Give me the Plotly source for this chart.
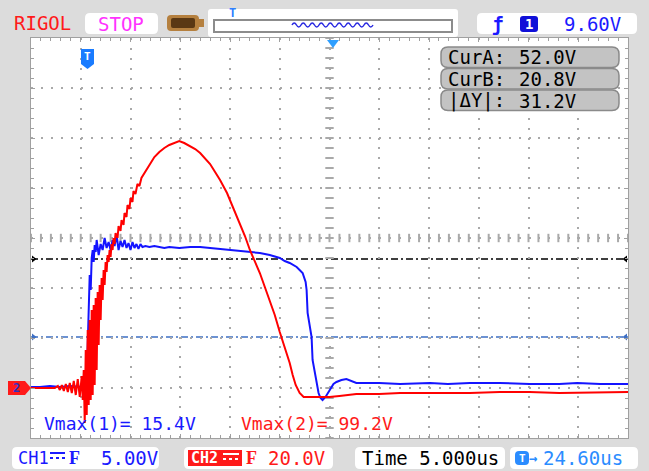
import plotly.graph_objects as go

# ---------------- data ----------------
TIME_DIV = 5.0      # us / div
CH1_DIV = 5.0       # V / div
CH2_DIV = 20.0      # V / div
T_OFFSET = 24.6     # us (screen centre relative to trigger)
GND_DIV = 0.98      # ground level above bottom edge, in divisions
TRIG_LEVEL = 9.60
CUR_A = 52.0
CUR_B = 20.8
VMAX1 = 15.4
VMAX2 = 99.2

ch1_t = [-5.4, -4.5, -3.5, -2.5, -1.5, -0.7, -0.1, 0.0, 0.1, 0.2, 0.3, 0.4, 0.5, 0.6, 0.7, 0.8,
         0.9, 1.0, 1.1, 1.2, 1.4, 1.6, 1.8, 2.0, 2.2, 2.4, 2.6, 2.8, 3.0, 3.2, 3.4, 3.6, 3.8,
         4.0, 4.2, 4.4, 4.6, 4.8, 5.0, 5.2, 5.4, 5.6, 5.8, 6.1, 6.5, 7.0, 7.5, 8.0, 8.5, 9.5,
         10.6, 11.6, 12.6, 13.6, 14.6, 15.6, 16.6, 17.6, 18.6, 19.6, 20.1, 20.6, 21.3, 21.9,
         22.2, 22.3, 22.4, 22.6, 22.8, 22.9, 23.1, 23.3, 23.5, 23.7, 23.9, 24.2, 24.6, 25.0,
         25.3, 25.8, 26.3, 26.8, 27.3, 29.6, 31.7, 34.7, 36.5, 38.7, 41.7, 44.7, 47.7, 49.5,
         51.8, 54.6]
ch1_v = [0.2, 0.2, 0.3, 0.2, 0.3, 0.2, 0.2, 0.1, -0.6, 0.9, 4.9, 8.9, 11.4, 9.9, 13.1, 13.9,
         12.7, 14.4, 13.7, 14.9, 13.4, 14.5, 13.9, 15.1, 14.1, 14.7, 13.9, 14.9, 14.3, 15.4,
         13.9, 14.8, 14.2, 14.9, 14.1, 14.6, 13.9, 14.7, 14.1, 14.5, 14.0, 14.5, 14.2, 14.3,
         14.2, 14.3, 14.2, 14.1, 14.2, 14.1, 14.2, 14.2, 14.1, 14.0, 13.9, 13.8, 13.7, 13.6,
         13.4, 13.1, 12.8, 12.6, 12.2, 11.6, 10.7, 9.9, 7.6, 6.4, 5.2, 2.9, 1.7, 0.9, -0.4,
         -0.9, -1.1, -0.8, -0.1, 0.5, 0.7, 0.9, 1.0, 0.8, 0.6, 0.6, 0.5, 0.6, 0.5, 0.6, 0.6,
         0.5, 0.5, 0.6, 0.5, 0.5]

ch2_t = [-5.4, -4.5, -3.5, -3.0, -2.7, -2.5, -2.3, -2.1, -1.9, -1.7, -1.5, -1.3, -1.1, -0.9,
         -0.7, -0.5, -0.3, -0.2, -0.1, 0.0, 0.1, 0.2, 0.3, 0.4, 0.5, 0.6, 0.7, 0.8, 0.9, 1.0,
         1.1, 1.2, 1.3, 1.4, 1.5, 1.6, 1.7, 1.8, 1.9, 2.0, 2.1, 2.2, 2.3, 2.4, 2.5, 2.6, 2.7,
         2.8, 2.9, 3.0, 3.1, 3.3, 3.4, 3.6, 3.7, 3.9, 4.0, 4.2, 4.3, 4.5, 4.6, 4.8, 4.9, 5.1,
         5.3, 5.5, 5.7, 6.0, 6.5, 7.0, 7.5, 8.0, 8.5, 9.0, 9.5, 10.0, 10.6, 11.1, 11.6, 12.1,
         12.6, 13.1, 13.6, 14.3, 14.9, 15.6, 16.1, 16.6, 17.1, 17.6, 18.1, 18.6, 19.1, 19.6,
         20.1, 20.6, 20.9, 21.2, 21.6, 22.0, 22.6, 23.6, 24.6, 25.6, 27.3, 29.6, 31.7, 34.7,
         38.7, 41.7, 44.7, 47.7, 51.8, 54.6]
ch2_v = [0.4, 0.4, 0.4, 0.4, 1.2, -0.4, 1.6, -0.8, 2.0, -1.2, 2.4, -1.6, 3.2, -2.4, 4.0,
         -3.2, 5.2, -4.4, 7.6, -13.6, 15.6, -10.4, 23.6, -6.4, 27.6, -4.4, 31.6, -2.4, 33.6,
         1.6, 36.4, 7.6, 38.8, 17.6, 41.6, 27.6, 44.4, 35.6, 47.6, 41.6, 50.8, 46.8, 53.6,
         50.8, 55.6, 52.8, 58.0, 55.6, 60.4, 58.0, 62.4, 60.4, 65.2, 63.2, 67.6, 65.6, 70.4,
         68.8, 73.6, 72.0, 76.4, 74.8, 79.2, 78.0, 82.0, 81.2, 84.4, 86.4, 90.0, 92.8, 94.8,
         96.4, 97.6, 98.4, 99.2, 98.4, 97.2, 96.0, 94.4, 92.4, 90.0, 86.8, 83.6, 78.4, 72.8,
         66.4, 61.2, 55.6, 50.8, 46.4, 40.8, 35.6, 29.6, 22.8, 16.8, 10.4, 5.6, 1.6, -1.6,
         -3.2, -3.2, -3.2, -3.2, -2.8, -2.0, -2.0, -1.6, -1.6, -1.6, -1.2, -1.2, -1.6, -1.2,
         -1.2]

# ---------------- layout helpers ----------------
W, H = 649, 471
L, R, T, B = 31, 628, 38, 438
MONO = "DejaVu Sans Mono"
BG = "#dcdcdc"


def PX(x):
    return (x - L) / (R - L)


def PY(y):
    return (B - y) / (B - T)


def rr(x0, y0, x1, y1, r):
    pts = [("M", x0 + r, y0), ("L", x1 - r, y0), ("Q", x1, y0, x1, y0 + r), ("L", x1, y1 - r),
           ("Q", x1, y1, x1 - r, y1), ("L", x0 + r, y1), ("Q", x0, y1, x0, y1 - r),
           ("L", x0, y0 + r), ("Q", x0, y0, x0 + r, y0)]
    s = ""
    for p in pts:
        cmd = p[0]
        coords = p[1:]
        vals = []
        for i in range(0, len(coords), 2):
            vals.append(f"{PX(coords[i]):.5f},{PY(coords[i+1]):.5f}")
        s += cmd + " " + " ".join(vals) + " "
    return s + "Z"


def poly(points):
    s = "M " + " L ".join(f"{PX(x):.5f},{PY(y):.5f}" for x, y in points)
    return s + " Z"


shapes = []
annos = []


def box(x0, y0, x1, y1, r, fill, line=None, lw=0):
    shapes.append(dict(type="path", path=rr(x0, y0, x1, y1, r), xref="paper", yref="paper",
                       fillcolor=fill, line=dict(color=line or fill, width=lw), layer="above"))


def pline(x0, y0, x1, y1, color, width=2, dash="solid"):
    shapes.append(dict(type="line", xref="paper", yref="paper", x0=PX(x0), y0=PY(y0),
                       x1=PX(x1), y1=PY(y1), line=dict(color=color, width=width, dash=dash),
                       layer="above"))


def text(s, x, y, color, size=19, anchor="left", family=MONO):
    annos.append(dict(text=s, x=PX(x), y=PY(y), xref="paper", yref="paper", xanchor=anchor,
                      yanchor="middle", showarrow=False,
                      font=dict(family=family, size=size, color=color)))


BLUE = "#1a1aff"
LBLUE = "#2b8cff"
RED = "#ff1a1a"

# ---- top bar ----
text("RIGOL", 12, 23, RED, 19)
box(85, 13, 158, 34, 5, "white")
text("STOP", 121, 24, "#ff33ff", 19, "center")
# battery icon
box(167, 15, 199, 31, 4, "#b5803f")
shapes.append(dict(type="rect", xref="paper", yref="paper", x0=PX(199), x1=PX(204), y0=PY(27),
                   y1=PY(19), fillcolor="#b5803f", line=dict(width=0)))
box(171, 18, 195, 28, 2, "#5a3814")
# memory bar
box(208, 9, 458, 37, 3, "white")
shapes.append(dict(type="rect", xref="paper", yref="paper", x0=PX(214), x1=PX(452), y0=PY(32),
                   y1=PY(20), fillcolor="white", line=dict(width=2, color="#8c8c8c")))
text("<b>T</b>", 232, 13, "#2f7fff", 12, "center")
wave = f"M {PX(292):.5f},{PY(25):.5f}"
for i in range(18):
    cx = 292 + i * 4.5 + 2.25
    cy = 21 if i % 2 == 0 else 29
    ex = 292 + (i + 1) * 4.5
    wave += f" Q {PX(cx):.5f},{PY(cy):.5f} {PX(ex):.5f},{PY(25):.5f}"
shapes.append(dict(type="path", path=wave, xref="paper", yref="paper",
                   line=dict(color="#2a2ae0", width=1.5)))
# trigger info
box(477, 13, 637, 34, 5, "white")
text("<b>ƒ</b>", 497, 24, BLUE, 19, "center")
box(520, 16, 538, 32, 3, "#1010d8")
text("<b>1</b>", 529, 24, "white", 14, "center")
text(f"{TRIG_LEVEL:.2f}V", 562, 24, BLUE, 19)

# ---- bottom bar ----
box(12, 447, 159, 469, 5, "white")
text("CH1", 16, 458, BLUE, 17)
pline(50, 453, 65, 453, BLUE, 2)
pline(50, 458, 65, 458, BLUE, 2, "dot")
text("<b>F</b>", 74, 458, BLUE, 18, "center", "Liberation Serif")
text(f"{CH1_DIV:.2f}V", 99, 458, BLUE, 19)

box(184, 447, 333, 469, 5, "white")
shapes.append(dict(type="rect", xref="paper", yref="paper", x0=PX(188), x1=PX(242), y0=PY(466),
                   y1=PY(450), fillcolor=RED, line=dict(width=0), layer="above"))
text("<b>CH2</b>", 189, 458, "white", 15)
pline(223, 454, 239, 454, "white", 2)
pline(223, 459, 239, 459, "white", 2, "dot")
text("<b>F</b>", 251, 458, RED, 18, "center", "Liberation Serif")
text(f"{CH2_DIV:.1f}V", 266, 458, RED, 19)

box(355, 447, 505, 469, 5, "white")
text(f"Time {TIME_DIV:.3f}us", 360, 458, "black", 19)

box(510, 447, 638, 469, 5, "white")
box(515, 451, 529, 465, 4, LBLUE)
text("<b>T</b>", 522, 458, "white", 11, "center")
text("<b>→</b>", 533, 458, LBLUE, 14, "center")
text(f"{T_OFFSET:.2f}us", 541, 458, LBLUE, 19)

# ---- in-screen readouts ----
text(f"Vmax(1)= {VMAX1:.1f}V", 42, 423, BLUE, 18)
text(f"Vmax(2)= {VMAX2:.1f}V", 239, 423, RED, 18)

for i, (lab, val) in enumerate([("CurA:", CUR_A), ("CurB:", CUR_B), ("|ΔY|:", abs(CUR_A - CUR_B))]):
    y0 = 47 + i * 21.5
    box(441, y0, 619, y0 + 20.5, 7, "#c3c3c3", "#8a8a8a", 1.5)
    text(lab, 446, y0 + 10.5, "black", 19)
    text(f"{val:.1f}V", 517, y0 + 10.5, "black", 19)

# trigger position marker (T) and horizontal-position triangle
shapes.append(dict(type="path", path=poly([(81, 49), (94, 49), (94, 64), (87.5, 69), (81, 64)]),
                   xref="paper", yref="paper", fillcolor="#1a7cff", line=dict(width=0)))
text("<b>T</b>", 87.5, 57, "white", 11, "center")
shapes.append(dict(type="path", path=poly([(327, 40), (339, 40), (333, 48)]), xref="paper",
                   yref="paper", fillcolor="#2f9fff", line=dict(width=0)))
# channel ground marker
shapes.append(dict(type="path", path=poly([(8, 381), (25, 381), (31, 388), (25, 395), (8, 395)]),
                   xref="paper", yref="paper", fillcolor=RED, line=dict(width=0)))
text("<b>2</b>", 16, 388, "#3030c0", 12, "center")

# ---------------- figure ----------------
x_lo = T_OFFSET - 6 * TIME_DIV
x_hi = T_OFFSET + 6 * TIME_DIV
y1_lo, y1_hi = -GND_DIV * CH1_DIV, (8 - GND_DIV) * CH1_DIV
y2_lo, y2_hi = -GND_DIV * CH2_DIV, (8 - GND_DIV) * CH2_DIV
GRID = "#a9a9a9"

fig = go.Figure()

# graticule centre-line tick marks
cx_ticks = [x_lo + k * TIME_DIV / 5 for k in range(61)]
cy_ticks = [y1_lo + k * CH1_DIV / 5 for k in range(41)]
y_mid = (y1_lo + y1_hi) / 2
fig.add_trace(go.Scatter(x=cx_ticks, y=[y_mid] * len(cx_ticks), mode="markers", hoverinfo="skip",
                         marker=dict(symbol="line-ns", size=6, line=dict(width=2, color=GRID))))
fig.add_trace(go.Scatter(x=[T_OFFSET] * len(cy_ticks), y=cy_ticks, mode="markers", hoverinfo="skip",
                         marker=dict(symbol="line-ew", size=6, line=dict(width=2, color=GRID))))

# cursors
for val, col in [(CUR_A, "black"), (CUR_B, "#3d6fc4")]:
    shapes.append(dict(type="line", xref="x", yref="y2", x0=x_lo, x1=x_hi, y0=val, y1=val,
                       line=dict(color=col, width=1.5, dash="7px,3px,2px,3px"), layer="below"))
    fig.add_trace(go.Scatter(x=[x_lo + 0.25], y=[val], yaxis="y2", mode="markers", hoverinfo="skip",
                             marker=dict(symbol="triangle-right", size=6, color=col)))
    fig.add_trace(go.Scatter(x=[x_hi - 0.25], y=[val], yaxis="y2", mode="markers", hoverinfo="skip",
                             marker=dict(symbol="triangle-left", size=6, color=col)))

fig.add_trace(go.Scatter(x=ch1_t, y=ch1_v, mode="lines", line=dict(color="#1414ff", width=2),
                         name="CH1"))
fig.add_trace(go.Scatter(x=ch2_t, y=ch2_v, yaxis="y2", mode="lines",
                         line=dict(color="#ff0000", width=2), name="CH2"))

axis_common = dict(showticklabels=False, zeroline=False, showline=True, linecolor="#a0a0a0",
                   linewidth=1, mirror="ticks", ticks="inside", ticklen=4, tickcolor="#a0a0a0",
                   showgrid=True, gridcolor=GRID, gridwidth=2, griddash="2px,7.95px",
                   fixedrange=True)

fig.update_layout(
    width=W, height=H,
    margin=dict(l=L, r=W - R, t=T, b=H - B, pad=0),
    paper_bgcolor=BG, plot_bgcolor="white",
    showlegend=False,
    xaxis=dict(range=[x_lo, x_hi], tick0=x_lo, dtick=TIME_DIV,
               minor=dict(dtick=TIME_DIV / 5, tick0=x_lo, ticks="inside", ticklen=3,
                          tickcolor="#a0a0a0", showgrid=False), **axis_common),
    yaxis=dict(range=[y1_lo, y1_hi], tick0=y1_lo, dtick=CH1_DIV,
               minor=dict(dtick=CH1_DIV / 5, tick0=y1_lo, ticks="inside", ticklen=3,
                          tickcolor="#a0a0a0", showgrid=False), **axis_common),
    yaxis2=dict(range=[y2_lo, y2_hi], overlaying="y", showticklabels=False, showgrid=False,
                zeroline=False, fixedrange=True),
    shapes=shapes,
    annotations=annos,
)

fig.write_html(
    "out.html",
    config={"displayModeBar": False, "staticPlot": True},
    post_script=f"document.body.style.margin='0';document.body.style.overflow='hidden';"
                f"document.body.style.background='{BG}';",
)
